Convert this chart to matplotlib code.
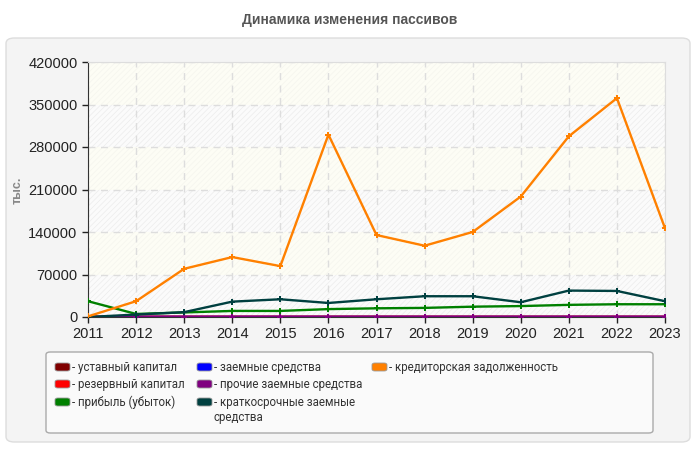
import matplotlib
matplotlib.use("Agg")
from matplotlib import pyplot as plt
from matplotlib.patches import FancyBboxPatch
import numpy as np

years = [2011, 2012, 2013, 2014, 2015, 2016, 2017, 2018, 2019, 2020, 2021, 2022, 2023]

# values, thousand rub
ustavny = [0, 10, 10, 10, 10, 10, 10, 10, 10, 10, 10, 10, 10]
rezervny = [0, 500, 500, 500, 500, 500, 500, 500, 500, 500, 500, 500, 500]
pribyl = [26000, 5000, 7500, 10000, 10000, 13000, 14300, 15000, 17000, 18000, 20000, 21000, 21000]
zaemnye = [0, 0, 0, 0, 0, 0, 0, 0, 0, 0, 0, 0, 0]
prochie = [0, 300, 300, 300, 300, 300, 300, 300, 300, 300, 300, 300, 300]
kratkosrochnye = [0, 4000, 8000, 25300, 29200, 23100, 29200, 34200, 34200, 24300, 43500, 42900, 26000]
kreditorskaya = [1000, 26000, 79400, 98700, 83800, 300400, 135000, 117400, 140000, 198400, 297600, 360500, 146200]

labels = [
    "- уставный капитал",
    "- резервный капитал",
    "- прибыль (убыток)",
    "- заемные средства",
    "- прочие заемные средства",
    "- краткосрочные заемные\nсредства",
    "- кредиторская задолженность",
]
colors = ["#800000", "#ff0000", "#008000", "#0000ff", "#800080", "#004040", "#ff8000"]
series = [ustavny, rezervny, pribyl, zaemnye, prochie, kratkosrochnye, kreditorskaya]
yticks = [0, 70000, 140000, 210000, 280000, 350000, 420000]

plt.rcParams["font.family"] = ["Liberation Sans", "DejaVu Sans"]
plt.rcParams["hatch.linewidth"] = 0.5

fig = plt.figure(figsize=(7, 4.5), dpi=100, facecolor="white")
W, H = 700, 450

# grey panel behind the chart
panel = FancyBboxPatch((6 / W, 8 / H), 684 / W, 404 / H,
                       boxstyle="round,pad=0,rounding_size=0.012",
                       transform=fig.transFigure, facecolor="#f4f4f4",
                       edgecolor="#dddddd", linewidth=1, zorder=-5)
fig.patches.append(panel)

fig.text(0.5, 1 - 20 / H, "Динамика изменения пассивов", ha="center", va="center",
         fontsize=10, fontweight="bold", color="#555555")

ax = fig.add_axes([88 / W, 1 - 317 / H, 577 / W, 255 / H])
ax.set_facecolor("white")

# alternating background bands
for i in range(len(yticks) - 1):
    if i % 2 == 0:
        ax.axhspan(yticks[i], yticks[i + 1], facecolor="#fbfbfb", edgecolor="#ececec",
                   hatch="//////", linewidth=0, zorder=0)
    else:
        ax.axhspan(yticks[i], yticks[i + 1], facecolor="#fdfdf5", edgecolor="#f5f5ee",
                   hatch="//////", linewidth=0, zorder=0)

for vals, c in zip(series, colors):
    ax.plot(years, vals, color=c, linewidth=1.7, marker="P", markersize=4,
            markeredgewidth=0, zorder=3)

ax.set_xlim(2011, 2023)
ax.set_ylim(0, 420000)
ax.set_xticks(years)
ax.set_yticks(yticks)
ax.tick_params(labelsize=10.5, colors="#222222", length=4, width=1)
ax.grid(True, color="#dddddd", linestyle=(0, (5, 4)), linewidth=1)
ax.set_axisbelow(True)
for s in ["top", "right"]:
    ax.spines[s].set_color("#dddddd")
for s in ["left", "bottom"]:
    ax.spines[s].set_color("#333333")

fig.text(18 / W, 1 - 190 / H, "тыс.", rotation=90, ha="center", va="center",
         fontsize=9, fontweight="bold", color="#888888")

# legend box
lbox = FancyBboxPatch((46 / W, 1 - 433 / H), 607 / W, 81 / H,
                      boxstyle="round,pad=0,rounding_size=0.006",
                      transform=fig.transFigure, facecolor="#fafafa",
                      edgecolor="#aaaaaa", linewidth=1, zorder=-4)
fig.patches.append(lbox)

col_x = [55, 197, 372]
row_y = [367, 384, 402]
for k, (lab, c) in enumerate(zip(labels, colors)):
    col = k // 3
    row = k % 3
    x = col_x[col]
    y = row_y[row]
    sw = FancyBboxPatch((x / W, 1 - (y + 4) / H), 15 / W, 8 / H,
                        boxstyle="round,pad=0,rounding_size=0.004",
                        transform=fig.transFigure, facecolor=c,
                        edgecolor="#999999", linewidth=0.6)
    fig.patches.append(sw)
    fig.text((x + 17) / W, 1 - (y - 6) / H, lab, ha="left", va="top",
             fontsize=8.3, color="#333333", family=["Roboto", "DejaVu Sans"],
             linespacing=1.2)

fig.savefig("out.png", dpi=100, facecolor="white")
